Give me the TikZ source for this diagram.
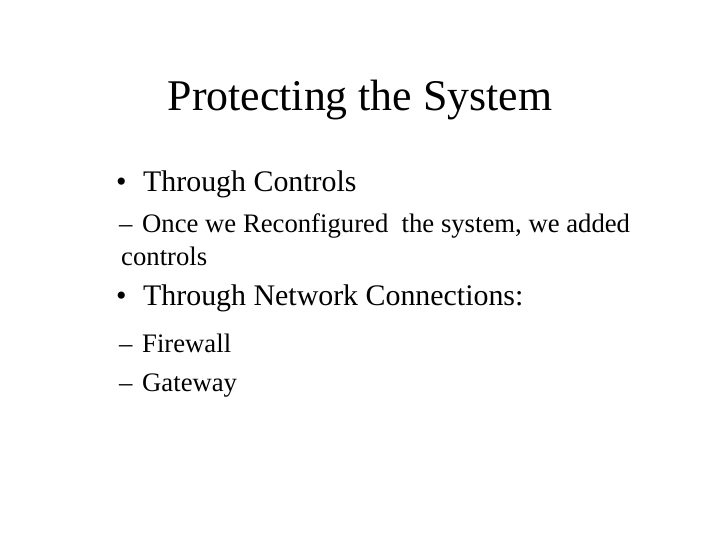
\documentclass[tikz,border=0pt]{standalone}
\usepackage{fontspec}
\setmainfont{Liberation Serif}
\begin{document}
\begin{tikzpicture}[x=1bp,y=-1bp,
  t/.style={anchor=base west,inner sep=0pt},
  big/.style={t,font=\fontsize{30}{36}\selectfont},
  small/.style={t,font=\fontsize{26.8}{30}\selectfont}]
\useasboundingbox[fill=white] (0,0) rectangle (720,540);
\node[anchor=base,inner sep=0pt,font=\fontsize{44}{50}\selectfont] (title) at (360,111) {Protecting the System};
\node[t,font=\fontsize{30}{36}\selectfont] (d1) at (116,192) {•};
\node[big] (b1) at (143,192) {Through Controls};
\node[small] (d2) at (119,233) {–};
\node[small] (s1) at (142,233) {Once we Reconfigured\ \ the system, we added};
\node[small] (s1b) at (121,266) {controls};
\node[t,font=\fontsize{30}{36}\selectfont] (d3) at (116,305) {•};
\node[big] (b2) at (143,305) {Through Network Connections:};
\node[small] (d4) at (119,352) {–};
\node[small] (s2) at (142,352) {Firewall};
\node[small] (d5) at (119,391) {–};
\node[small] (s3) at (142,391) {Gateway};
\end{tikzpicture}
\end{document}
